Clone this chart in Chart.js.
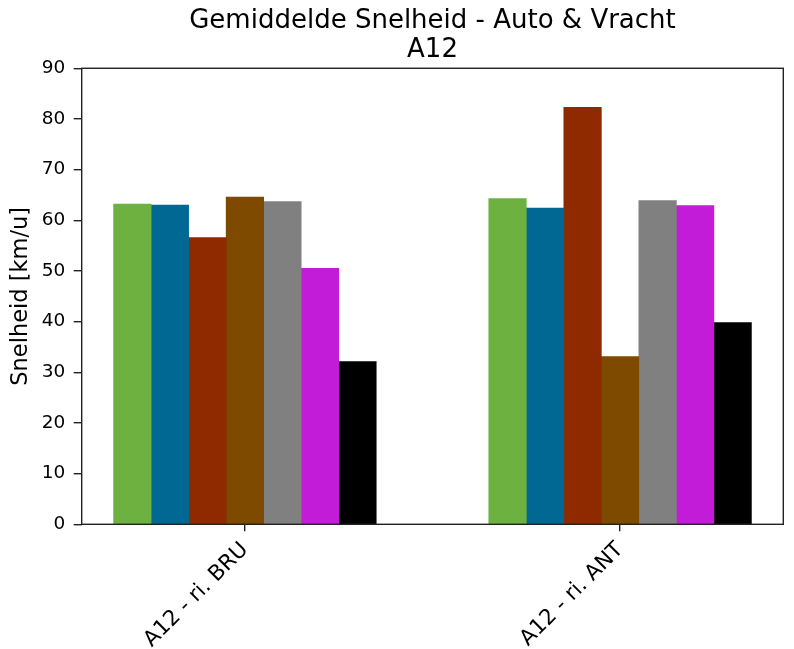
<!DOCTYPE html>
<html>
<head>
<meta charset="utf-8">
<script src="https://cdn.jsdelivr.net/npm/chart.js@4/dist/chart.umd.min.js"></script>
<style>
  html, body { margin: 0; padding: 0; background: #fff; }
  #wrap { width: 794px; height: 649px; position: relative; }
</style>
</head>
<body>
<div id="wrap"><canvas id="chart"></canvas></div>
<script>
// Road sections (one bar group each)
const categories = ['A12 - ri. BRU', 'A12 - ri. ANT'];

// Average speed per series, one value per road section [km/u]
const series1 = [63.2, 64.3];
const series2 = [63.0, 62.4];
const series3 = [56.6, 82.3];
const series4 = [64.6, 33.1];
const series5 = [63.7, 63.9];
const series6 = [50.5, 62.9];
const series7 = [32.1, 39.8];

const yTicks = [0, 10, 20, 30, 40, 50, 60, 70, 80, 90];

const seriesValues = [series1, series2, series3, series4, series5, series6, series7];
const seriesColors = ['#6db240', '#006892', '#8f2900', '#7e4a00', '#808080', '#c21cd8', '#000000'];

// Bars sit side by side around each group position (0, 1, ...)
const BAR_W = 0.1;
const nSeries = seriesValues.length;
const halfGroup = nSeries * BAR_W / 2;
const margin = 0.05 * ((categories.length - 1) + 2 * halfGroup);

const datasets = seriesValues.map((vals, s) => ({
  label: 'Reeks ' + (s + 1),
  data: vals.map((v, g) => ({ x: g + (s - (nSeries - 1) / 2) * BAR_W, y: v })),
  backgroundColor: seriesColors[s],
  borderWidth: 0,
  grouped: false,
  categoryPercentage: 1,
  barPercentage: 1
}));

const FONT = 'DejaVu Sans';
const AXIS_COLOR = '#222';

// Frame round the plot area (all four spines)
const framePlugin = {
  id: 'frame',
  afterDraw(chart) {
    const { ctx, chartArea: a } = chart;
    ctx.save();
    ctx.strokeStyle = AXIS_COLOR;
    ctx.lineWidth = 1.4;
    ctx.strokeRect(a.left, a.top, a.right - a.left, a.bottom - a.top);
    ctx.restore();
  }
};

new Chart(document.getElementById('chart'), {
  type: 'bar',
  data: { datasets },
  plugins: [framePlugin],
  options: {
    responsive: true,
    maintainAspectRatio: false,
    animation: false,
    layout: { padding: { left: 0, right: 10.7, top: 0, bottom: 0 } },
    plugins: {
      legend: { display: false },
      tooltip: { enabled: false },
      title: {
        display: true,
        fullSize: false,
        text: ['Gemiddelde Snelheid - Auto & Vracht', 'A12'],
        color: '#000',
        font: { family: FONT, size: 26, weight: 'normal', lineHeight: 1.14 },
        padding: { top: 6, bottom: 3 }
      }
    },
    scales: {
      x: {
        type: 'linear',
        offset: false,
        min: -halfGroup - margin,
        max: (categories.length - 1) + halfGroup + margin,
        afterBuildTicks(scale) {
          scale.ticks = categories.map((c, i) => ({ value: i }));
        },
        afterFit(scale) { scale.height = 124.7; },
        border: { display: false },
        grid: {
          offset: false,
          drawOnChartArea: false,
          drawTicks: true,
          tickLength: 7,
          color: AXIS_COLOR,
          lineWidth: 1.4
        },
        ticks: {
          autoSkip: false,
          minRotation: 45,
          maxRotation: 45,
          padding: 6,
          color: '#000',
          font: { family: FONT, size: 21.5 },
          callback: (value, index) => categories[index]
        }
      },
      y: {
        min: yTicks[0],
        max: yTicks[yTicks.length - 1],
        afterBuildTicks(scale) {
          scale.ticks = yTicks.map(v => ({ value: v }));
        },
        afterFit(scale) { scale.width = 81.7; },
        border: { display: false },
        grid: {
          drawOnChartArea: false,
          drawTicks: true,
          tickLength: 8,
          color: AXIS_COLOR,
          lineWidth: 1.4
        },
        ticks: {
          padding: 8.5,
          color: '#000',
          font: { family: FONT, size: 18.5 }
        },
        title: {
          display: true,
          text: 'Snelheid [km/u]',
          color: '#000',
          font: { family: FONT, size: 22.5, lineHeight: 1.2 },
          padding: { top: 7.5, bottom: 0 }
        }
      }
    }
  }
});
</script>
</body>
</html>
